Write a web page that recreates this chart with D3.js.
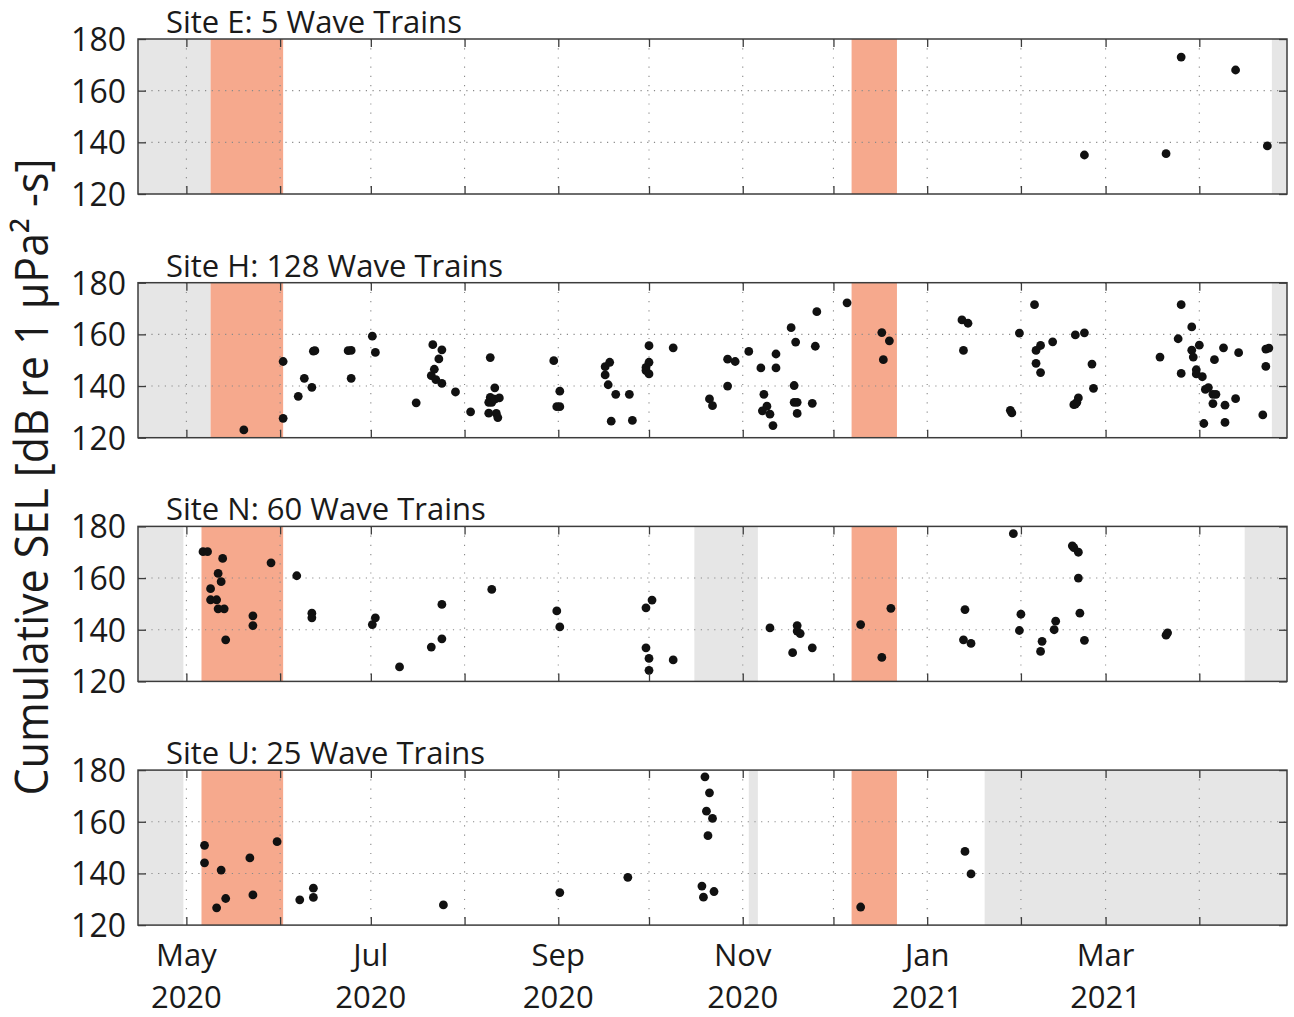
<!DOCTYPE html>
<html>
<head>
<meta charset="utf-8">
<script src="https://cdn.jsdelivr.net/npm/d3@7"></script>
<style>
  html, body { margin: 0; padding: 0; background: #fff; }
  svg { display: block; }
  text { font-family: "Open Sans", "Noto Sans", sans-serif; fill: #1a1a1a; }
</style>
</head>
<body>
<svg id="chart" width="1294" height="1017"></svg>
<script>
// ---------------- DATA ----------------
const siteNames = ["E", "H", "N", "U"];
const waveTrainCounts = [5, 128, 60, 25];

const xDomain = ["2020-04-15", "2021-04-30"];
const yDomain = [120, 180];
const yTicks = [120, 140, 160, 180];
const yGridValues = [140, 160];
const xLabelMonths = ["2020-05-01", "2020-07-01", "2020-09-01", "2020-11-01", "2021-01-01", "2021-03-01"];
const yAxisLabel = "Cumulative SEL  [dB re 1 \u03bcPa\u00b2 -s]";

// gaps in recording (grey) and highlighted periods (salmon)
const gapsE = [["2020-04-15", "2020-05-09"], ["2021-04-25", "2021-04-30"]];
const gapsH = [["2020-04-15", "2020-05-09"], ["2021-04-25", "2021-04-30"]];
const gapsN = [["2020-04-15", "2020-04-30"], ["2020-10-16", "2020-11-06"], ["2021-04-16", "2021-04-30"]];
const gapsU = [["2020-04-15", "2020-04-30"], ["2020-11-03", "2020-11-06"], ["2021-01-20", "2021-04-30"]];
const highlightE = [["2020-05-09", "2020-06-02"], ["2020-12-07", "2020-12-22"]];
const highlightH = [["2020-05-09", "2020-06-02"], ["2020-12-07", "2020-12-22"]];
const highlightN = [["2020-05-06", "2020-06-02"], ["2020-12-07", "2020-12-22"]];
const highlightU = [["2020-05-06", "2020-06-02"], ["2020-12-07", "2020-12-22"]];

// wave trains: [date, cumulative SEL dB]
const siteE = [
  ["2021-02-22", 135.1], ["2021-03-21", 135.6], ["2021-03-26", 173], ["2021-04-13", 168], ["2021-04-23T12:00", 138.6]
];

const siteH = [
  ["2020-05-20", 123], ["2020-06-02", 149.5], ["2020-06-02", 127.5], ["2020-06-07", 136], ["2020-06-09", 143],
  ["2020-06-11T12:00", 139.5], ["2020-06-12", 153.5], ["2020-06-12T12:00", 153.7], ["2020-06-23T12:00", 153.7], ["2020-06-24T12:00", 153.8],
  ["2020-06-24T12:00", 143], ["2020-07-01T12:00", 159.3], ["2020-07-02T12:00", 153], ["2020-07-16", 133.5], ["2020-07-21T12:00", 156],
  ["2020-07-24T12:00", 154], ["2020-07-23T12:00", 150.5], ["2020-07-22", 146.5], ["2020-07-21", 144], ["2020-07-22T12:00", 142.5],
  ["2020-07-24T12:00", 141], ["2020-07-29", 137.7], ["2020-08-03", 130], ["2020-08-09T12:00", 151], ["2020-08-11", 139.3],
  ["2020-08-09T12:00", 135.6], ["2020-08-09", 133.7], ["2020-08-10", 133.7], ["2020-08-11", 134.9], ["2020-08-12T12:00", 135.4],
  ["2020-08-09", 129.5], ["2020-08-11T12:00", 129.4], ["2020-08-12", 127.8], ["2020-08-30T12:00", 149.8], ["2020-09-01T12:00", 138],
  ["2020-08-31T12:00", 132], ["2020-09-01T12:00", 132], ["2020-09-16T12:00", 147.5], ["2020-09-18", 149.2], ["2020-09-16T12:00", 144.3],
  ["2020-09-17T12:00", 140.5], ["2020-09-20", 136.8], ["2020-09-24T12:00", 136.8], ["2020-09-18T12:00", 126.4], ["2020-09-25T12:00", 126.7],
  ["2020-10-01", 155.6], ["2020-10-01", 149.2], ["2020-09-30", 147.2], ["2020-09-30", 146], ["2020-10-01", 144.7],
  ["2020-10-09", 154.8], ["2020-10-21", 135], ["2020-10-22", 132.4], ["2020-10-27", 150.4], ["2020-10-29T12:00", 149.5],
  ["2020-10-27", 140], ["2020-11-03", 153.4], ["2020-11-07", 147], ["2020-11-12", 152.4], ["2020-11-12", 147],
  ["2020-11-08", 136.8], ["2020-11-09", 132.2], ["2020-11-07T12:00", 130.4], ["2020-11-10", 129.1], ["2020-11-11", 124.7],
  ["2020-11-17", 162.6], ["2020-11-18T12:00", 157], ["2020-11-25", 155.4], ["2020-11-25T12:00", 168.8], ["2020-11-18", 140.2],
  ["2020-11-18", 133.7], ["2020-11-19", 133.7], ["2020-11-19", 129.4], ["2020-11-24", 133.3], ["2020-12-05T12:00", 172.2],
  ["2020-12-17", 160.7], ["2020-12-19T12:00", 157.5], ["2020-12-17T12:00", 150.2], ["2021-01-12T12:00", 165.6], ["2021-01-14T12:00", 164.3],
  ["2021-01-13", 153.8], ["2021-01-28T12:00", 130.6], ["2021-01-29", 129.6], ["2021-01-31T12:00", 160.5], ["2021-02-05T12:00", 171.5],
  ["2021-02-07T12:00", 155.7], ["2021-02-06", 153.8], ["2021-02-11T12:00", 157.1], ["2021-02-06", 148.8], ["2021-02-07T12:00", 145.2],
  ["2021-02-19", 159.8], ["2021-02-22", 160.6], ["2021-02-24T12:00", 148.5], ["2021-02-25", 139.1], ["2021-02-20", 135.4],
  ["2021-02-19T12:00", 133.7], ["2021-02-18T12:00", 132.8], ["2021-02-19", 133], ["2021-03-19", 151.2], ["2021-03-26", 171.5],
  ["2021-03-29T12:00", 162.9], ["2021-03-25", 158.3], ["2021-04-01", 155.8], ["2021-03-29T12:00", 153.9], ["2021-03-30", 151.2],
  ["2021-03-26", 144.9], ["2021-03-31", 146.3], ["2021-03-31", 144.7], ["2021-04-02", 143.6], ["2021-04-09", 154.8],
  ["2021-04-06", 150.2], ["2021-04-14", 152.9], ["2021-04-03", 138.7], ["2021-04-04", 139.4], ["2021-04-05T12:00", 136.8],
  ["2021-04-06T12:00", 136.8], ["2021-04-05T12:00", 133.2], ["2021-04-09T12:00", 132.6], ["2021-04-13", 135.1], ["2021-04-02T12:00", 125.5],
  ["2021-04-09T12:00", 125.9], ["2021-04-22", 128.8], ["2021-04-23", 154.3], ["2021-04-24", 154.7], ["2021-04-23", 147.6]
];

const siteN = [
  ["2020-05-06T12:00", 170.2], ["2020-05-08", 170.2], ["2020-05-13", 167.6], ["2020-05-11T12:00", 161.8], ["2020-05-12T12:00", 158.6],
  ["2020-05-09", 155.9], ["2020-05-09", 151.6], ["2020-05-11", 151.6], ["2020-05-11T12:00", 148.1], ["2020-05-13T12:00", 148.1],
  ["2020-05-14", 136.1], ["2020-05-23", 145.4], ["2020-05-23", 141.6], ["2020-05-29", 165.9], ["2020-06-06T12:00", 160.9],
  ["2020-06-11T12:00", 146.4], ["2020-06-11T12:00", 144.6], ["2020-07-01T12:00", 142], ["2020-07-02T12:00", 144.6], ["2020-07-10T12:00", 125.6],
  ["2020-07-24T12:00", 149.8], ["2020-07-21", 133.3], ["2020-07-24T12:00", 136.5], ["2020-08-10", 155.6], ["2020-08-31T12:00", 147.3],
  ["2020-09-01T12:00", 141.1], ["2020-09-30", 148.5], ["2020-10-02", 151.5], ["2020-09-30", 133], ["2020-10-01", 128.9],
  ["2020-10-01", 124.3], ["2020-10-09", 128.3], ["2020-11-10", 140.7], ["2020-11-19", 141.6], ["2020-11-19", 139.5],
  ["2020-11-20", 138.5], ["2020-11-17T12:00", 131.1], ["2020-11-24", 133], ["2020-12-10", 142], ["2020-12-20", 148.3],
  ["2020-12-17", 129.3], ["2021-01-13T12:00", 147.8], ["2021-01-13", 136.1], ["2021-01-15T12:00", 134.7], ["2021-01-29T12:00", 177.2],
  ["2021-02-01", 146], ["2021-01-31T12:00", 139.7], ["2021-02-08", 135.5], ["2021-02-07T12:00", 131.6], ["2021-02-12T12:00", 143.3],
  ["2021-02-12", 140], ["2021-02-18", 172.5], ["2021-02-18T12:00", 171.8], ["2021-02-20", 170], ["2021-02-20", 160],
  ["2021-02-20T12:00", 146.4], ["2021-02-22", 135.9], ["2021-03-21", 137.9], ["2021-03-21T12:00", 138.8]
];

const siteU = [
  ["2020-05-07", 150.9], ["2020-05-07", 144.1], ["2020-05-12T12:00", 141.3], ["2020-05-11", 126.7], ["2020-05-14", 130.3],
  ["2020-05-22", 146], ["2020-05-23", 131.7], ["2020-05-31", 152.3], ["2020-06-07T12:00", 129.8], ["2020-06-12", 134.3],
  ["2020-06-12", 130.7], ["2020-07-25", 127.8], ["2020-09-01T12:00", 132.6], ["2020-09-24", 138.5], ["2020-10-19T12:00", 177.4],
  ["2020-10-21", 171.2], ["2020-10-20", 164.1], ["2020-10-22", 161.3], ["2020-10-20T12:00", 154.6], ["2020-10-18T12:00", 135.1],
  ["2020-10-19", 130.8], ["2020-10-22T12:00", 133], ["2020-12-10", 127], ["2021-01-13T12:00", 148.5], ["2021-01-15T12:00", 139.8]
];

const sitePoints = [siteE, siteH, siteN, siteU];
const siteGaps = [gapsE, gapsH, gapsN, gapsU];
const siteHighlights = [highlightE, highlightH, highlightN, highlightU];

// ---------------- DRAWING ----------------
const parseDT = d3.timeParse("%Y-%m-%dT%H:%M");
const parseD = d3.timeParse("%Y-%m-%d");
const parse = s => parseDT(s) || parseD(s);

const svg = d3.select("#chart");
const left = 138, right = 1287;
const panelTop0 = 39, panelStep = 243.7, panelH = 155;

const x = d3.scaleTime().domain(xDomain.map(parse)).range([left, right]);
const months = d3.timeMonth.range(d3.timeMonth.ceil(x.domain()[0]), x.domain()[1]);

const COLORS = { gap: "#e6e6e6", highlight: "#f6a98d", grid: "#8a8a8a", frame: "#3c3c3c", dot: "#111" };

siteNames.forEach((name, i) => {
  const top = panelTop0 + i * panelStep;
  const y = d3.scaleLinear().domain(yDomain).range([top + panelH, top]);
  const g = svg.append("g");

  g.selectAll("rect.gap").data(siteGaps[i]).join("rect")
    .attr("class", "gap")
    .attr("x", d => x(parse(d[0])))
    .attr("width", d => x(parse(d[1])) - x(parse(d[0])))
    .attr("y", top).attr("height", panelH)
    .attr("fill", COLORS.gap);

  g.selectAll("rect.hl").data(siteHighlights[i]).join("rect")
    .attr("class", "hl")
    .attr("x", d => x(parse(d[0])))
    .attr("width", d => x(parse(d[1])) - x(parse(d[0])))
    .attr("y", top).attr("height", panelH)
    .attr("fill", COLORS.highlight);

  g.selectAll("line.vg").data(months).join("line")
    .attr("class", "vg")
    .attr("x1", d => x(d)).attr("x2", d => x(d))
    .attr("y1", top).attr("y2", top + panelH)
    .attr("stroke", COLORS.grid).attr("stroke-width", 1.1)
    .attr("stroke-dasharray", "1.2,8");

  g.selectAll("line.hg").data(yGridValues).join("line")
    .attr("class", "hg")
    .attr("x1", left).attr("x2", right)
    .attr("y1", d => y(d)).attr("y2", d => y(d))
    .attr("stroke", COLORS.grid).attr("stroke-width", 1.1)
    .attr("stroke-dasharray", "1.2,5.5");

  g.selectAll("circle").data(sitePoints[i]).join("circle")
    .attr("cx", d => x(parse(d[0])))
    .attr("cy", d => y(d[1]))
    .attr("r", 4.4)
    .attr("fill", COLORS.dot);

  const axB = g.append("g").attr("transform", `translate(0,${top + panelH})`)
    .call(d3.axisBottom(x).tickValues(months).tickSizeInner(-8).tickSizeOuter(0).tickFormat(""));
  const axT = g.append("g").attr("transform", `translate(0,${top})`)
    .call(d3.axisTop(x).tickValues(months).tickSizeInner(-8).tickSizeOuter(0).tickFormat(""));
  const axL = g.append("g").attr("transform", `translate(${left},0)`)
    .call(d3.axisLeft(y).tickValues(yTicks).tickSizeInner(-8).tickSizeOuter(0).tickPadding(12).tickFormat(d3.format("d")));
  const axR = g.append("g").attr("transform", `translate(${right},0)`)
    .call(d3.axisRight(y).tickValues(yTicks).tickSizeInner(-8).tickSizeOuter(0).tickFormat(""));
  [axB, axT, axL, axR].forEach(a => {
    a.select(".domain").remove();
    a.selectAll(".tick line").attr("stroke", COLORS.frame).attr("stroke-width", 1.3);
  });
  axL.selectAll(".tick text")
    .attr("font-size", 32).attr("fill", "#1a1a1a")
    .attr("font-family", "'Open Sans', sans-serif")
    .attr("dy", "0.36em");

  g.append("rect")
    .attr("x", left).attr("y", top).attr("width", right - left).attr("height", panelH)
    .attr("fill", "none").attr("stroke", COLORS.frame).attr("stroke-width", 1.5);

  g.append("text")
    .attr("x", 166).attr("y", top - 6)
    .attr("font-size", 31)
    .text(`Site ${name}: ${waveTrainCounts[i]} Wave Trains`);

  if (i === siteNames.length - 1) {
    const lab = g.selectAll("text.xl").data(xLabelMonths.map(parse)).join("text")
      .attr("class", "xl")
      .attr("text-anchor", "middle")
      .attr("font-size", 31);
    lab.append("tspan").attr("x", d => x(d)).attr("y", top + panelH + 41).text(d3.timeFormat("%b"));
    lab.append("tspan").attr("x", d => x(d)).attr("y", top + panelH + 83).text(d3.timeFormat("%Y"));
  }
});

svg.append("text")
  .attr("transform", "translate(48,477) rotate(-90)")
  .attr("text-anchor", "middle")
  .attr("font-size", 45)
  .attr("textLength", 637)
  .attr("lengthAdjust", "spacingAndGlyphs")
  .text(yAxisLabel);
</script>
</body>
</html>
